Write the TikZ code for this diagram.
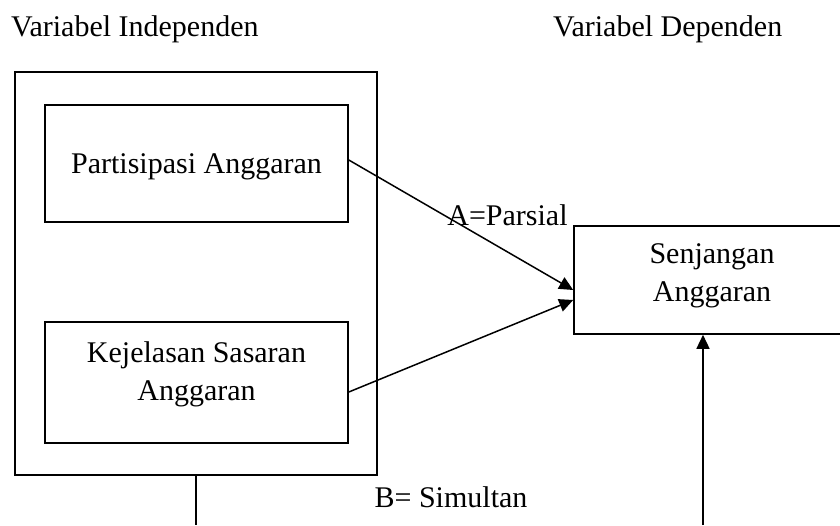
\documentclass[tikz,border=0pt]{standalone}
\usepackage{fontspec}
\setmainfont{Liberation Serif}
\usetikzlibrary{arrows.meta}
\begin{document}
\begin{tikzpicture}[x=1pt,y=-1pt,
  boxshape/.style={draw,line width=1.6pt,rectangle,inner sep=0pt},
  txt/.style={inner sep=0pt,align=center,font=\fontsize{30}{38}\selectfont},
  conn/.style={line width=1.5pt},
  arr/.style={line width=1.5pt,-{Triangle[length=14pt,width=13pt]}}]
\useasboundingbox (0,0) rectangle (840,525);
% titles
\node[txt,anchor=base west] (tind) at (11,36) {Variabel Independen};
\node[txt,anchor=base west] (tdep) at (553,36) {Variabel Dependen};
% outer box
\node[boxshape,minimum width=362pt,minimum height=403pt] (outer) at (196,273.5) {};
% inner boxes
\node[boxshape,minimum width=303pt,minimum height=117pt] (part) at (196.5,163.5) {};
\node[txt,anchor=base] (partt) at (196.5,173) {Partisipasi Anggaran};
\node[boxshape,minimum width=303pt,minimum height=121pt] (kej) at (196.5,382.5) {};
\node[txt] (kejt) at (196.5,374.5) {Kejelasan Sasaran\\Anggaran};
% dependent box (clipped at right edge)
\node[boxshape,minimum width=276pt,minimum height=108pt] (senj) at (712,280) {};
\node[txt] (senjt) at (712,276) {Senjangan\\Anggaran};
% arrows
\draw[arr] ([yshift=3.5pt]part.east) -- ([yshift=-10pt]senj.west);
\draw[arr] ([yshift=-9.5pt]kej.east) -- ([yshift=-20pt]senj.west);
\coordinate (b1) at (196,525);
\coordinate (b2) at (703,525);
\draw[conn] (outer.south) -- (b1);
\draw[arr] (b2) -- (b2 |- senj.south);
% labels
\node[txt,anchor=base] (lA) at (507.5,225) {A=Parsial};
\node[txt,anchor=base] (lB) at (451,507) {B= Simultan};
\end{tikzpicture}
\end{document}
